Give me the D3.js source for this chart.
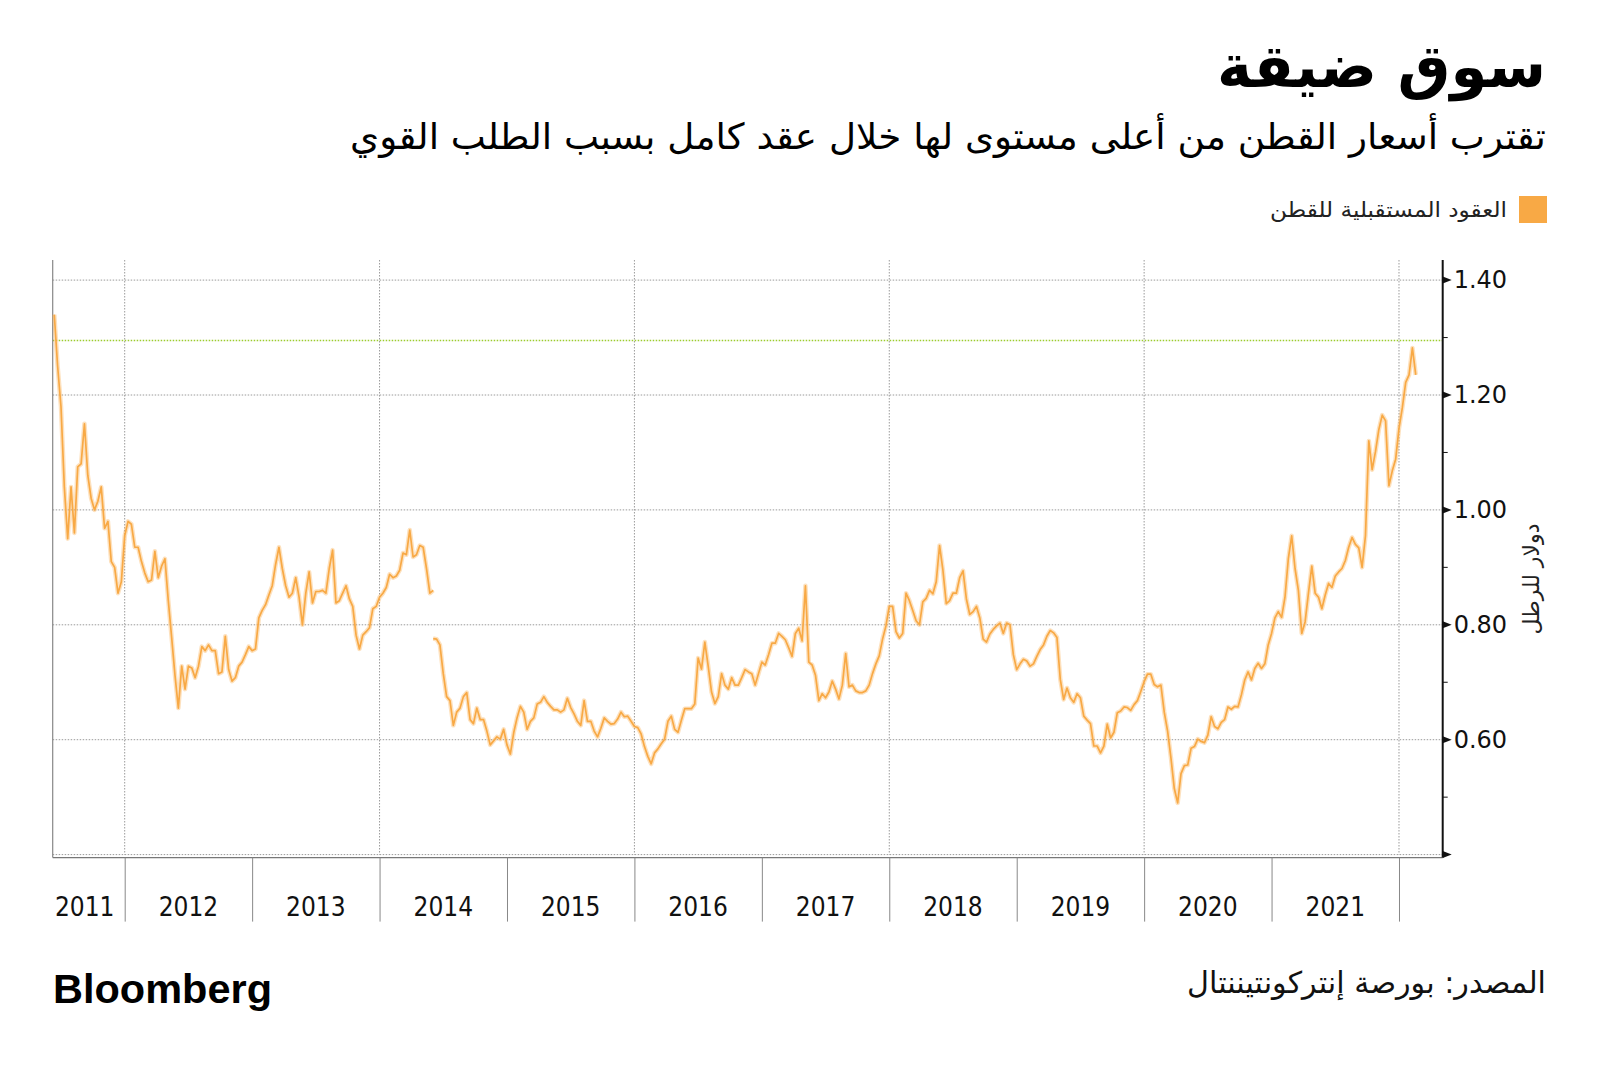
<!DOCTYPE html>
<html><head><meta charset="utf-8">
<script src="https://cdn.jsdelivr.net/npm/d3@7"></script>
<style>body{margin:0;background:#fff}svg{display:block}</style>
</head><body><svg id="c" width="1600" height="1069"></svg>
<script>
// ---------- texts ----------
const titleText = "سوق ضيقة";
const subtitleText = "تقترب أسعار القطن من أعلى مستوى لها خلال عقد كامل بسبب الطلب القوي";
const legendLabel = "العقود المستقبلية للقطن";
const sourceText = "المصدر: بورصة إنتركونتيننتال";
const yAxisTitle = "دولار للرطل";
const brandText = "Bloomberg";

// ---------- axes ----------
const yTickValues = [0.6, 0.8, 1.0, 1.2, 1.4];
const yMinorTicks = [0.5, 0.7, 0.9, 1.1, 1.3];
const yGridValues = [0.4, 0.6, 0.8, 1.0, 1.2, 1.4];
const yearLabels = [2011, 2012, 2013, 2014, 2015, 2016, 2017, 2018, 2019, 2020, 2021];
const yearBoundaries = [2012, 2013, 2014, 2015, 2016, 2017, 2018, 2019, 2020, 2021, 2022];
const gridYears = [2012, 2014, 2016, 2018, 2020, 2022];
const xDomain = [2011.435, 2022.343];
const yDomain = [0.4, 1.435];
const decadeHigh = 1.295;

// ---------- series: cotton futures, $/lb, sampled 38 times per year ----------
const samplesPerYear = 38;
const firstSample = 2011 + 17 / 38;
const rollIndex = 113; // contract roll in 2014 (break in the line)
const pricesBeforeRoll = [
1.34,1.25,1.18,1.04,0.95,1.04,0.96,1.075,1.08,1.15,1.06,1.02,1.00,1.015,1.04,0.968,0.98,0.91,0.90,0.855,
0.875,0.955,0.98,0.975,0.935,0.935,0.91,0.89,0.875,0.878,0.928,0.882,0.902,0.915,0.842,0.778,0.712,0.655,0.728,0.688,
0.728,0.725,0.708,0.728,0.762,0.755,0.765,0.755,0.755,0.715,0.718,0.78,0.722,0.702,0.708,0.728,0.735,0.748,0.762,0.755,
0.758,0.812,0.825,0.835,0.852,0.868,0.905,0.935,0.898,0.868,0.848,0.855,0.882,0.848,0.80,0.855,0.892,0.838,0.858,0.858,
0.86,0.855,0.898,0.93,0.838,0.842,0.855,0.868,0.845,0.832,0.782,0.758,0.782,0.788,0.795,0.828,0.832,0.848,0.855,0.865,
0.888,0.882,0.885,0.895,0.925,0.922,0.965,0.918,0.922,0.938,0.935,0.898,0.855,0.86
];
const pricesAfterRoll = [
0.776,0.775,0.765,0.715,0.675,0.668,0.625,0.648,0.655,0.675,0.682,0.635,0.628,0.655,0.635,0.635,0.615,0.591,0.598,0.605,
0.601,0.618,0.591,0.575,0.612,0.638,0.658,0.648,0.618,0.632,0.638,0.662,0.665,0.675,0.665,0.658,0.652,0.652,0.648,0.652,
0.672,0.656,0.645,0.632,0.625,0.668,0.632,0.632,0.615,0.605,0.62,0.638,0.632,0.627,0.628,0.636,0.648,0.64,0.641,0.632,
0.623,0.621,0.61,0.588,0.571,0.558,0.577,0.584,0.593,0.601,0.632,0.641,0.618,0.613,0.634,0.654,0.654,0.654,0.662,0.742,
0.723,0.77,0.728,0.683,0.663,0.675,0.715,0.695,0.688,0.708,0.695,0.695,0.708,0.722,0.718,0.715,0.695,0.715,0.735,0.73,
0.748,0.768,0.768,0.785,0.78,0.774,0.76,0.745,0.785,0.794,0.772,0.868,0.735,0.73,0.712,0.668,0.68,0.673,0.683,0.702,
0.688,0.671,0.695,0.75,0.692,0.695,0.685,0.682,0.682,0.685,0.695,0.715,0.732,0.746,0.775,0.798,0.832,0.832,0.788,0.777,
0.785,0.855,0.842,0.825,0.807,0.80,0.84,0.846,0.86,0.854,0.875,0.938,0.895,0.837,0.842,0.855,0.855,0.882,0.894,0.845,
0.818,0.823,0.832,0.812,0.775,0.77,0.784,0.792,0.798,0.803,0.785,0.803,0.80,0.748,0.722,0.732,0.74,0.737,0.728,0.732,
0.745,0.757,0.765,0.78,0.79,0.786,0.778,0.705,0.67,0.69,0.673,0.665,0.68,0.673,0.641,0.634,0.628,0.589,0.589,0.577,
0.589,0.627,0.603,0.613,0.647,0.65,0.657,0.656,0.651,0.661,0.668,0.684,0.701,0.714,0.714,0.696,0.692,0.695,0.648,0.615,
0.568,0.515,0.49,0.541,0.555,0.556,0.585,0.588,0.601,0.597,0.595,0.608,0.64,0.623,0.619,0.63,0.635,0.657,0.653,0.658,
0.657,0.678,0.704,0.718,0.704,0.724,0.733,0.724,0.732,0.765,0.785,0.812,0.823,0.813,0.848,0.915,0.955,0.898,0.86,0.785,
0.805,0.855,0.902,0.855,0.848,0.828,0.852,0.872,0.865,0.885,0.892,0.898,0.912,0.935,0.952,0.94,0.934,0.90,0.955,1.12,
1.07,1.102,1.14,1.165,1.155,1.042,1.068,1.088,1.142,1.178,1.222,1.235,1.282,1.235
];

// ---------- colours ----------
const seriesColor = "#f8a945";
const gridColor = "#9a9a9a";
const highColor = "#9ccc2e";

// ---------- layout ----------
const plot = {left: 52.7, right: 1442.7, top: 260, bottom: 854.6};
const arabicFont = "'DejaVu Sans', 'Noto Sans', sans-serif";
const numFont = "'DejaVu Sans', sans-serif";
const yearFont = "'DejaVu Sans Condensed', 'DejaVu Sans', sans-serif";

const svg = d3.select("#c");
const x = d3.scaleLinear().domain(xDomain).range([plot.left, plot.right]);
const y = d3.scaleLinear().domain(yDomain).range([plot.bottom, plot.top]);

// titles
svg.append("text").attr("x", 1546).attr("y", 87).attr("text-anchor", "end")
  .attr("font-family", arabicFont).attr("font-weight", "bold").attr("font-size", 60)
  .attr("textLength", 329).attr("lengthAdjust", "spacingAndGlyphs").attr("fill", "#000").text(titleText);
svg.append("text").attr("x", 1546).attr("y", 149).attr("text-anchor", "end")
  .attr("font-family", arabicFont).attr("font-size", 36)
  .attr("textLength", 1196).attr("lengthAdjust", "spacingAndGlyphs").attr("fill", "#000").text(subtitleText);

// legend
svg.append("rect").attr("x", 1519).attr("y", 196).attr("width", 28).attr("height", 27).attr("fill", seriesColor);
svg.append("text").attr("x", 1507).attr("y", 217).attr("text-anchor", "end")
  .attr("font-family", arabicFont).attr("font-size", 21)
  .attr("textLength", 237).attr("lengthAdjust", "spacingAndGlyphs").attr("fill", "#222").text(legendLabel);

// grid
const g = svg.append("g");
g.selectAll("line.hg").data(yGridValues).join("line").attr("class", "hg")
  .attr("x1", plot.left).attr("x2", plot.right).attr("y1", d => y(d)).attr("y2", d => y(d))
  .attr("stroke", gridColor).attr("stroke-width", 1).attr("stroke-dasharray", "1.5,1.5");
g.selectAll("line.vg").data(gridYears).join("line").attr("class", "vg")
  .attr("x1", d => x(d)).attr("x2", d => x(d)).attr("y1", plot.top).attr("y2", plot.bottom)
  .attr("stroke", gridColor).attr("stroke-width", 1).attr("stroke-dasharray", "1.5,1.5");
g.append("line").attr("x1", plot.left).attr("x2", plot.right).attr("y1", y(decadeHigh)).attr("y2", y(decadeHigh))
  .attr("stroke", highColor).attr("stroke-width", 1.5).attr("stroke-dasharray", "1.5,1.5");

// left frame line & bottom axis line
g.append("line").attr("x1", plot.left).attr("x2", plot.left).attr("y1", plot.top).attr("y2", plot.bottom + 3)
  .attr("stroke", "#888").attr("stroke-width", 1.2);
g.append("line").attr("x1", plot.left).attr("x2", plot.right).attr("y1", plot.bottom + 3).attr("y2", plot.bottom + 3)
  .attr("stroke", "#777").attr("stroke-width", 1.2);

// x axis (year boundaries as ticks, labels centred in each year)
const xAxis = d3.axisBottom(x).tickValues(yearBoundaries).tickSize(64).tickFormat("");
const xa = svg.append("g").attr("transform", `translate(0,${plot.bottom + 3})`).call(xAxis);
xa.select(".domain").remove();
xa.selectAll(".tick line").attr("stroke", "#888").attr("stroke-width", 1);
svg.selectAll("text.yl").data(yearLabels).join("text").attr("class", "yl")
  .attr("x", d => x((Math.max(d, xDomain[0]) + d + 1) / 2) - (d === 2011 ? 4 : 0))
  .attr("y", 916).attr("text-anchor", "middle")
  .attr("font-family", yearFont).attr("font-stretch", "condensed").attr("font-size", 26).attr("fill", "#111")
  .text(d => d);

// series (a soft band for the daily noise plus a core line)
const line = d3.line().x(d => x(d.t)).y(d => y(d.v));
const segA = pricesBeforeRoll.map((v, i) => ({t: firstSample + i / samplesPerYear, v}));
const segB = pricesAfterRoll.map((v, i) => ({t: firstSample + (rollIndex + i) / samplesPerYear, v}));
svg.selectAll("path.band").data([segA, segB]).join("path").attr("class", "band")
  .attr("d", line).attr("fill", "none").attr("stroke", seriesColor).attr("stroke-opacity", 0.35)
  .attr("stroke-width", 4.5).attr("stroke-linejoin", "round");
svg.selectAll("path.series").data([segA, segB]).join("path").attr("class", "series")
  .attr("d", line).attr("fill", "none").attr("stroke", seriesColor).attr("stroke-width", 1.7)
  .attr("stroke-linejoin", "round");

// right y axis
const yAxis = d3.axisRight(y).tickValues(yTickValues).tickSize(0).tickPadding(11)
  .tickFormat(d3.format(".2f"));
const ya = svg.append("g").attr("transform", `translate(${plot.right},0)`).call(yAxis);
ya.select(".domain").remove();
ya.selectAll(".tick text").attr("font-family", numFont).attr("font-size", 24).attr("fill", "#111");
svg.append("line").attr("x1", plot.right).attr("x2", plot.right).attr("y1", plot.top).attr("y2", plot.bottom + 3)
  .attr("stroke", "#111").attr("stroke-width", 2);
const tri = d => `M${plot.right},${y(d) - 3.5}L${plot.right + 9},${y(d)}L${plot.right},${y(d) + 3.5}Z`;
svg.selectAll("path.tri").data(yTickValues.concat([0.4])).join("path").attr("class", "tri")
  .attr("d", tri).attr("fill", "#111");
svg.selectAll("line.minor").data(yMinorTicks).join("line").attr("class", "minor")
  .attr("x1", plot.right).attr("x2", plot.right + 5).attr("y1", d => y(d)).attr("y2", d => y(d))
  .attr("stroke", "#111").attr("stroke-width", 1);

// y axis title
svg.append("text").attr("transform", `translate(1531,579) rotate(-90)`).attr("text-anchor", "middle")
  .attr("dy", "0.35em").attr("font-family", arabicFont).attr("font-size", 22).attr("fill", "#222")
  .text(yAxisTitle);

// footer
svg.append("text").attr("x", 53).attr("y", 1003).attr("font-family", "'Liberation Sans', Arial, sans-serif")
  .attr("font-weight", "bold").attr("font-size", 40).attr("textLength", 219).attr("lengthAdjust", "spacingAndGlyphs")
  .attr("fill", "#000").text(brandText);
svg.append("text").attr("x", 1546).attr("y", 993).attr("text-anchor", "end")
  .attr("font-family", arabicFont).attr("font-size", 30)
  .attr("textLength", 359).attr("lengthAdjust", "spacingAndGlyphs").attr("fill", "#111").text(sourceText);
</script></body></html>
